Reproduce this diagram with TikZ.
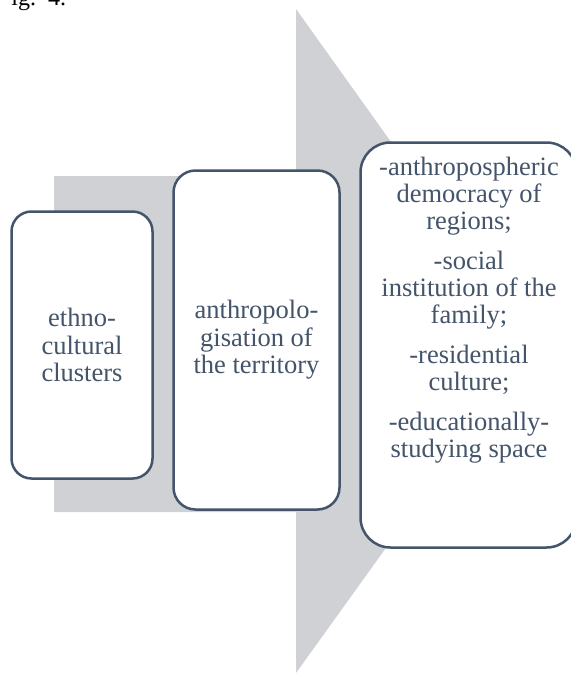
\documentclass[tikz,border=0pt]{standalone}
\usepackage{fontspec}
\setmainfont{Liberation Serif}
\definecolor{slate}{HTML}{44546A}
\definecolor{arrowgray}{HTML}{D0D1D5}

\begin{document}
\begin{tikzpicture}[x=0.5pt,y=-0.5pt]

      \clip (0,0) rectangle (571,675);

      \node[anchor=base west,inner sep=0pt,font=\fontsize{12}{12}\selectfont] (fig) at (11,5) {ig.\hspace{6pt}4.};

      \fill[arrowgray] (54,176) -- (296,176) -- (296,9) -- (534,342) -- (296,673) -- (296,512) -- (54,512) -- cycle;

      \begin{scope}[every node/.style={draw=slate,line width=1.25pt,fill=white,text=slate,align=center,inner sep=0pt,font=\fontsize{13.25}{13.75}\selectfont}]
        \node[rounded corners=10pt,minimum width=70.5pt,minimum height=133.5pt] (ethno)   at (82,345)    {ethno-\\cultural\\clusters};
        \node[rounded corners=11pt,minimum width=83pt,minimum height=169.5pt]   (anthro)  at (256.5,340) {anthropolo-\\gisation of\\the territory};
        \node[rounded corners=15pt,minimum width=108pt,minimum height=202.5pt]  (spheres) at (468.5,345) {};
      \end{scope}

      \node[anchor=north,text=slate,align=center,inner sep=0pt,font=\fontsize{13.25}{13.5}\selectfont] (spherestext) at (469,157)
        {-anthropospheric\\democracy of\\regions;\\[6.5pt]-social\\institution of the\\family;\\[6.5pt]-residential\\culture;\\[6.5pt]-educationally-\\studying space};

    \end{tikzpicture}
\end{document}
